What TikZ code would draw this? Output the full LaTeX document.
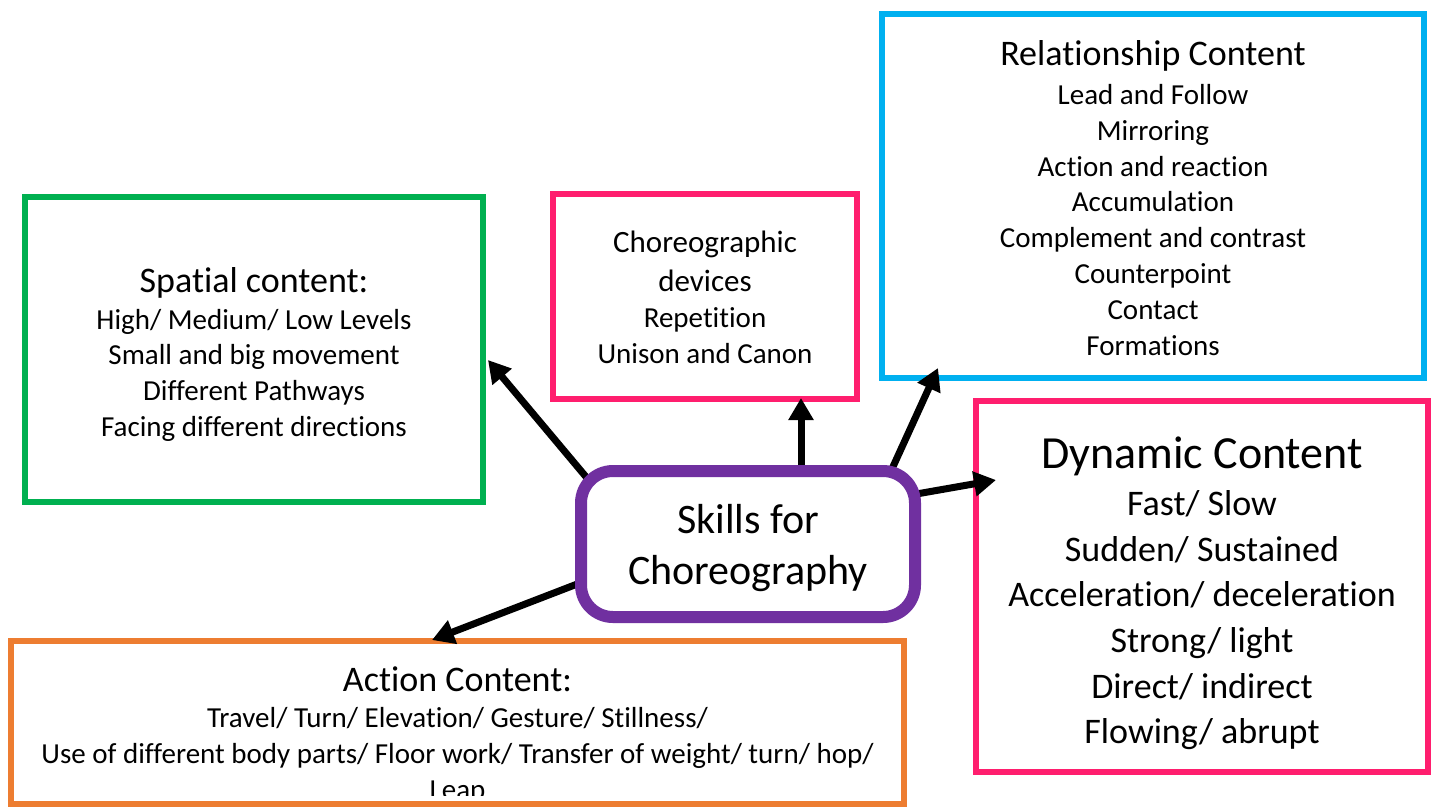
\documentclass[tikz,border=0pt]{standalone}
\usepackage{fontspec}
\setmainfont{Carlito}[Ligatures=NoCommon]
\usetikzlibrary{arrows.meta}
\definecolor{cgreen}{RGB}{0,176,80}
\definecolor{cpink}{RGB}{255,30,110}
\definecolor{cblue}{RGB}{0,176,240}
\definecolor{corange}{RGB}{237,125,49}
\definecolor{cpurple}{RGB}{112,48,160}
\newcommand\fsz[2]{\fontsize{#1}{#2}\selectfont}
\tikzset{
  box/.style={draw, line width=6pt, fill=white, inner sep=0pt},
  hd/.style={anchor=base, inner sep=0pt, font=\fsz{36pt}{44pt}},
  bd/.style={anchor=base, inner sep=0pt, font=\fsz{29pt}{36pt}},
  conn/.style={line width=7pt, -{Triangle[length=22pt,width=24pt]}},
}
\begin{document}
\begin{tikzpicture}[x=1pt,y=-1pt]
\useasboundingbox (0,0) rectangle (1437,807);
\fill[white] (0,0) rectangle (1437,807);

% boxes
\node[box, draw=cgreen, minimum width=458pt, minimum height=305pt] (spatial) at (254,349.5) {};
\node[box, draw=cpink, minimum width=304pt, minimum height=205pt] (devices) at (705,296.5) {};
\node[box, draw=cblue, minimum width=542pt, minimum height=364pt] (relation) at (1153,196) {};
\node[box, draw=cpink, minimum width=452pt, minimum height=371pt] (dynamic) at (1202,586.5) {};
\node[box, draw=corange, minimum width=893pt, minimum height=163pt] (action) at (457.5,722.5) {};

% spatial text
\node[hd] (sph) at (254,292) {Spatial content:};
\node[bd] (sp1) at (254,329) {High/ Medium/ Low Levels};
\node[bd] (sp2) at (254,364) {Small and big movement};
\node[bd] (sp3) at (254,400) {Different Pathways};
\node[bd] (sp4) at (254,436) {Facing different directions};

% devices text
\node[hd, font=\fsz{31pt}{39pt}] (dvh1) at (705,252.7) {Choreographic};
\node[hd, font=\fsz{31pt}{39pt}] (dvh2) at (705,291.7) {devices};
\node[bd] (dv1) at (705,327.7) {Repetition};
\node[bd] (dv2) at (705,363.3) {Unison and Canon};

% relationship text
\node[hd] (rlh) at (1153,65) {Relationship Content};
\node[bd] (rl1) at (1153,104) {Lead and Follow};
\node[bd] (rl2) at (1153,140) {Mirroring};
\node[bd] (rl3) at (1153,176) {Action and reaction};
\node[bd] (rl4) at (1153,211) {Accumulation};
\node[bd] (rl5) at (1153,247) {Complement and contrast};
\node[bd] (rl6) at (1153,283) {Counterpoint};
\node[bd] (rl7) at (1153,319) {Contact};
\node[bd] (rl8) at (1153,355) {Formations};

% dynamic text
\node[hd, font=\fsz{46pt}{56pt}] (dyh) at (1202,468) {Dynamic Content};
\node[bd, font=\fsz{36pt}{46pt}] (dy1) at (1202,515) {Fast/ Slow};
\node[bd, font=\fsz{36pt}{46pt}] (dy2) at (1202,561) {Sudden/ Sustained};
\node[bd, font=\fsz{36pt}{46pt}] (dy3) at (1202,606) {Acceleration/ deceleration};
\node[bd, font=\fsz{36pt}{46pt}] (dy4) at (1202,652) {Strong/ light};
\node[bd, font=\fsz{36pt}{46pt}] (dy5) at (1202,698) {Direct/ indirect};
\node[bd, font=\fsz{36pt}{46pt}] (dy6) at (1202,743) {Flowing/ abrupt};

% action text
\node[hd] (ach) at (457.5,691) {Action Content:};
\node[bd] (ac1) at (457.5,727.7) {Travel/ Turn/ Elevation/ Gesture/ Stillness/};
\node[bd] (ac2) at (457.5,763) {Use of different body parts/ Floor work/ Transfer of weight/ turn/ hop/};
\begin{scope}
\clip (14,644) rectangle (901,795);
\node[bd] (ac3) at (457.5,799) {Leap};
\end{scope}

% connector end points
\coordinate (s1) at (592,484);
\coordinate (e1) at (488,360);
\coordinate (s2) at (801,478);
\coordinate (e2) at (801,398);
\coordinate (s3) at (886,482);
\coordinate (e3) at (938,368);
\coordinate (s4) at (905,496);
\coordinate (e4) at (996,480);
\coordinate (s5) at (585,581);
\coordinate (e5) at (432,640);

\draw[conn] (s1) -- (e1);
\draw[conn] (s2) -- (e2);
\draw[conn] (s3) -- (e3);
\draw[conn] (s4) -- (e4);
\draw[conn] (s5) -- (e5);

% central node
\node[draw=cpurple, line width=12pt, fill=white, rounded corners=32pt,
  minimum width=334pt, minimum height=146pt, inner sep=0pt] (skills) at (748,544) {};
\node[anchor=base, inner sep=0pt, font=\fsz{42pt}{50pt}] (sk1) at (748,533) {Skills for};
\node[anchor=base, inner sep=0pt, font=\fsz{42pt}{50pt}] (sk2) at (748,584) {Choreography};
\end{tikzpicture}
\end{document}
